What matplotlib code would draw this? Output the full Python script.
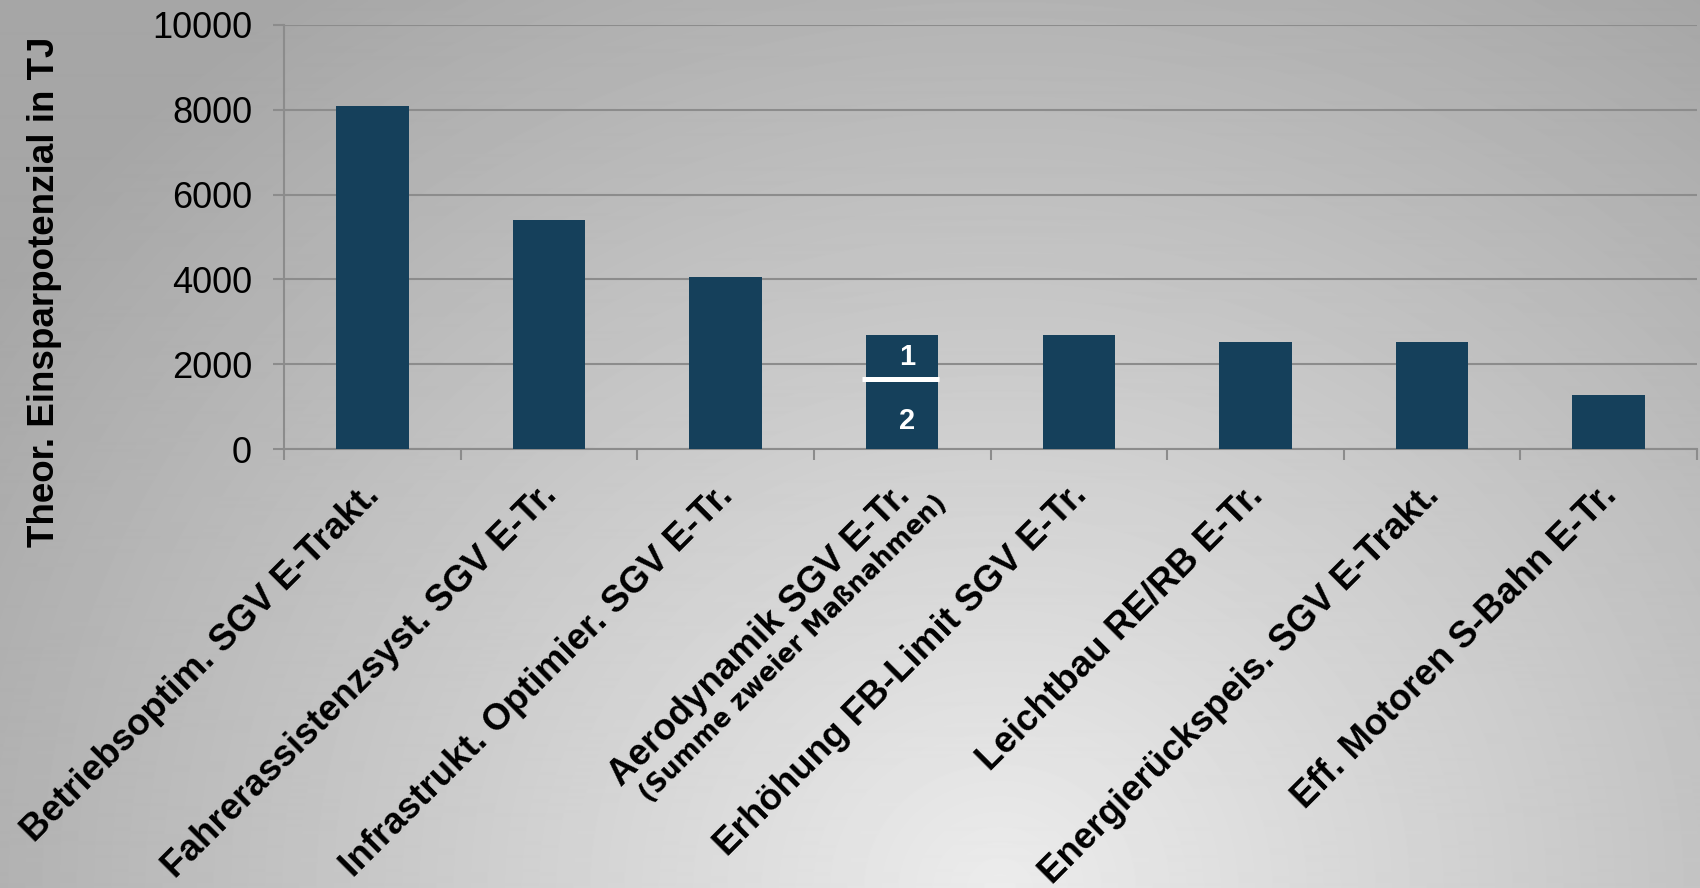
# -*- coding: utf-8 -*-

import numpy as np
import matplotlib
matplotlib.use("Agg")
import matplotlib.pyplot as plt
from matplotlib.transforms import ScaledTranslation

plt.rcParams['font.family'] = ['Liberation Sans', 'DejaVu Sans']

# DATA
labels = [
    "Betriebsoptim. SGV E-Trakt.",
    "Fahrerassistenzsyst. SGV E-Tr.",
    "Infrastrukt. Optimier. SGV E-Tr.",
    "Aerodynamik SGV E-Tr.",
    "Erhöhung FB-Limit SGV E-Tr.",
    "Leichtbau RE/RB E-Tr.",
    "Energierückspeis. SGV E-Trakt.",
    "Eff. Motoren S-Bahn E-Tr.",
]
values = [8100, 5400, 4050, 2700, 2700, 2530, 2530, 1270]

# Aerodynamik bar = sum of two measures (part 2 at the bottom, part 1 on top)
aero_index = 3
aero_parts = [1650, 1050]
aero_names = ["2", "1"]
aero_note = "(Summe zweier Maßnahmen)"

yticks = [0, 2000, 4000, 6000, 8000, 10000]
ylabel = "Theor. Einsparpotenzial in TJ"

barColor = "#15405b"
gridColor = "#8c8c8c"

fig = plt.figure(figsize=(17, 8.88), dpi=100)

# background: grey radial gradient, lightest near the bottom middle
bg = fig.add_axes([0, 0, 1, 1])
h, w = 888, 1700
yy, xx = np.mgrid[0:h, 0:w]
r = np.sqrt(((xx - 1000) / 1100.0) ** 2 + ((yy - 888) / 1000.0) ** 2)
grad = 236 - 64 * np.clip(r, 0, 1.1)
bg.imshow(grad, cmap="gray", vmin=0, vmax=255, aspect="auto", interpolation="bilinear")
bg.axis("off")

ax = fig.add_axes([284 / 1700.0, 1 - 449 / 888.0, 1413 / 1700.0, 424 / 888.0])
ax.set_facecolor("none")

x = np.arange(len(labels))
ax.bar(x, values, width=0.41, color=barColor, zorder=3)

# white separator inside the Aerodynamik bar
split = aero_parts[0]
ax.plot([aero_index - 0.225, aero_index + 0.21], [split, split],
        color="white", lw=3.6, solid_capstyle="butt", zorder=4)
ax.text(aero_index + 0.03, split * 0.4, aero_names[0], color="white",
        fontsize=21, fontweight="bold", ha="center", va="center", zorder=5)
ax.text(aero_index + 0.03, split + aero_parts[1] / 2.0, aero_names[1], color="white",
        fontsize=21, fontweight="bold", ha="center", va="center", zorder=5)

ax.set_xlim(-0.5, len(labels) - 0.5)
ax.set_ylim(0, 10000)
ax.set_yticks(yticks)
ax.yaxis.grid(True, color=gridColor, lw=1.5, zorder=0)
ax.set_axisbelow(True)

for side in ["top", "right"]:
    ax.spines[side].set_visible(False)
ax.spines["left"].set_color(gridColor)
ax.spines["bottom"].set_color(gridColor)
ax.spines["left"].set_linewidth(1.5)
ax.spines["bottom"].set_linewidth(1.5)

ax.tick_params(axis="y", labelsize=26, length=8, width=1.5, color=gridColor, pad=15)

# x: ticks between categories, labels at the bars
ax.set_xticks(x)
ax.set_xticks(np.arange(len(labels) + 1) - 0.5, minor=True)
ax.tick_params(axis="x", which="major", length=0, pad=34.5)
ax.tick_params(axis="x", which="minor", length=8, width=1.5, color=gridColor)
ax.set_xticklabels(labels, rotation=45, fontsize=26.5, fontweight="bold",
                   ha="right", va="baseline", rotation_mode="anchor")
shift = ScaledTranslation(0.09, 0, fig.dpi_scale_trans)
for lab in ax.get_xticklabels():
    lab.set_transform(lab.get_transform() + shift)

# second line under the Aerodynamik label
ax.text(aero_index, 0, aero_note, rotation=45, rotation_mode="anchor",
        ha="right", va="baseline", fontsize=18.5, fontweight="bold",
        family="DejaVu Sans",
        transform=ax.transData + ScaledTranslation(0.46, -0.55, fig.dpi_scale_trans))

ax.set_ylabel(ylabel, fontsize=26.5, fontweight="bold")
ax.yaxis.set_label_coords(-0.157, 0.37)

fig.savefig("out.png", dpi=100)
